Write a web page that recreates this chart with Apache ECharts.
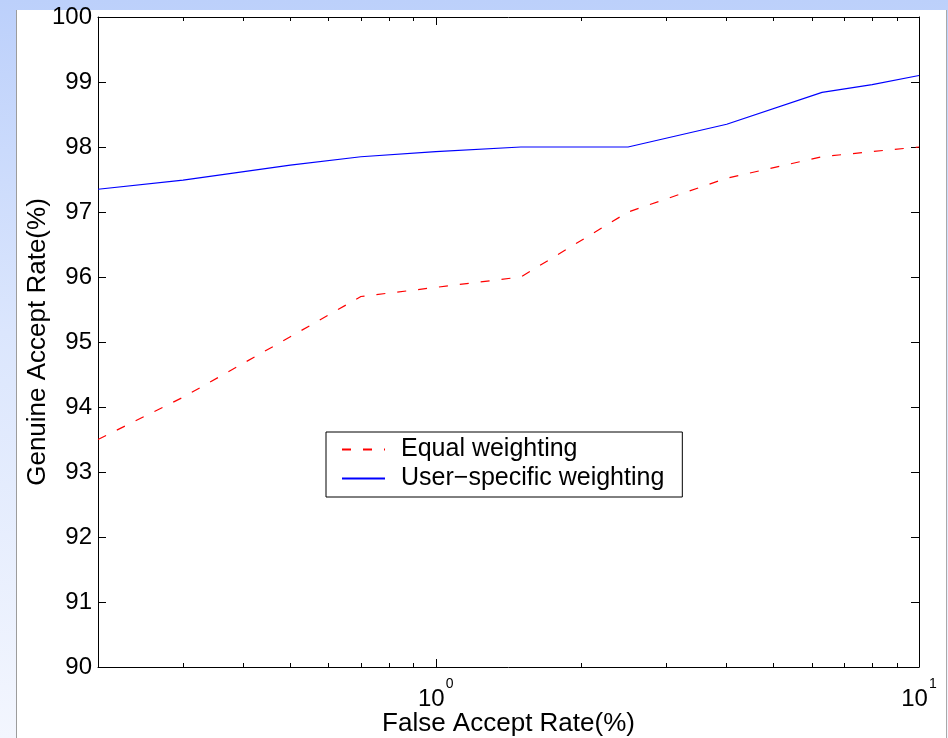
<!DOCTYPE html>
<html>
<head>
<meta charset="utf-8">
<script src="https://cdn.jsdelivr.net/npm/echarts@6/dist/echarts.min.js"></script>
<style>
  html, body {
    margin: 0; padding: 0; width: 948px; height: 738px; overflow: hidden;
    background: linear-gradient(to bottom, #bcd0fb 0%, #dbe6fd 45%, #f3f6fe 100%);
  }
  #panel {
    position: absolute; left: 16px; top: 10px; width: 931px; height: 728px;
    background: #ffffff; box-sizing: border-box;
    border-left: 1px solid #9c9c9c; border-right: 1px solid #a9a9a9;
  }
  #chart { position: absolute; left: 0; top: 0; width: 948px; height: 738px; }
</style>
</head>
<body>
<div id="panel"></div>
<div id="chart"></div>
<script>
// False accept rate (%) sample points, shared by both curves
const farValues = [0.2, 0.3, 0.5, 0.7, 1.0, 1.5, 2.5, 4.0, 6.3, 8.0, 10];

// Genuine accept rate (%) for each weighting scheme
const equalWeighting = [93.5, 94.15, 95.08, 95.7, 95.84, 96.0, 97.0, 97.52, 97.85, 97.93, 98.0];
const userSpecificWeighting = [97.35, 97.49, 97.72, 97.85, 97.93, 98.0, 98.0, 98.35, 98.84, 98.96, 99.1];

const seriesNames = ['Equal weighting', 'User\u2212specific weighting'];

// Axis tick positions
const xMajorTicks = [1, 10];
const xMinorTicks = [0.3, 0.4, 0.5, 0.6, 0.7, 0.8, 0.9, 2, 3, 4, 5, 6, 7, 8, 9];

const FONT = "'Liberation Sans', Arial, Helvetica, sans-serif";

function pairs(xs, ys) {
  return xs.map((x, i) => [x, ys[i]]);
}

function logAxis(position, ticks, tickLen, opts) {
  return Object.assign({
    type: 'log',
    logBase: 10,
    min: 0.2,
    max: 10,
    position: position,
    axisLine: { show: false },
    axisTick: {
      show: true, inside: true, length: tickLen, customValues: ticks,
      lineStyle: { color: '#000', width: 1 }
    },
    axisLabel: { show: false },
    splitLine: { show: false },
    minorTick: { show: false },
    minorSplitLine: { show: false }
  }, opts || {});
}

const chart = echarts.init(document.getElementById('chart'), null, { renderer: 'canvas' });

chart.setOption({
  animation: false,
  backgroundColor: 'transparent',
  textStyle: { fontFamily: FONT },
  grid: { left: 98, top: 17, width: 821, height: 650, containLabel: false, outerBoundsMode: 'none' },
  legend: {
    orient: 'vertical',
    left: 326,
    top: 432,
    padding: [5, 18, 6, 15],
    itemGap: 4,
    itemWidth: 43,
    itemHeight: 14,
    borderColor: '#000',
    borderWidth: 1,
    backgroundColor: '#fff',
    borderRadius: 0,
    itemStyle: { opacity: 0 },
    textStyle: { fontSize: 25, color: '#000', fontFamily: FONT, padding: [0, 0, 0, 11] },
    data: seriesNames
  },
  xAxis: [
    logAxis('bottom', xMajorTicks, 8, {
      axisLine: { show: true, lineStyle: { color: '#000', width: 1 } },
      axisLabel: {
        show: true,
        customValues: xMajorTicks,
        margin: 10,
        color: '#000',
        fontFamily: FONT,
        formatter: function (v) {
          const e = Math.round(Math.log10(v));
          return '{b|10}{s|' + e + '}';
        },
        rich: {
          b: { fontSize: 24, fontFamily: FONT, color: '#000', verticalAlign: 'bottom', padding: [10, 0, 0, 0] },
          s: { fontSize: 14, fontFamily: FONT, color: '#000', verticalAlign: 'top', padding: [0, 0, 0, 1] }
        }
      },
      name: 'False Accept Rate(%)',
      nameLocation: 'middle',
      nameGap: 44,
      nameMoveOverlap: false,
      nameTextStyle: { fontSize: 26, color: '#000', fontFamily: FONT }
    }),
    logAxis('bottom', xMinorTicks, 4),
    logAxis('top', xMajorTicks, 8, {
      axisLine: { show: true, lineStyle: { color: '#000', width: 1 } }
    }),
    logAxis('top', xMinorTicks, 4)
  ],
  yAxis: [
    {
      type: 'value',
      min: 90, max: 100, interval: 1,
      position: 'left',
      axisLine: { show: true, lineStyle: { color: '#000', width: 1 } },
      axisTick: { show: true, inside: true, length: 8, lineStyle: { color: '#000', width: 1 } },
      axisLabel: { show: true, margin: 6, fontSize: 24, color: '#000', fontFamily: FONT },
      splitLine: { show: false },
      name: 'Genuine Accept Rate(%)',
      nameLocation: 'middle',
      nameGap: 47,
      nameMoveOverlap: false,
      nameTextStyle: { fontSize: 26, color: '#000', fontFamily: FONT }
    },
    {
      type: 'value',
      min: 90, max: 100, interval: 1,
      position: 'right',
      axisLine: { show: true, lineStyle: { color: '#000', width: 1 } },
      axisTick: { show: true, inside: true, length: 8, lineStyle: { color: '#000', width: 1 } },
      axisLabel: { show: false },
      splitLine: { show: false }
    }
  ],
  series: [
    {
      name: seriesNames[0],
      type: 'line',
      xAxisIndex: 0, yAxisIndex: 0,
      data: pairs(farValues, equalWeighting),
      symbol: 'none',
      smooth: false,
      lineStyle: { color: '#ff0000', width: 1.2, type: [9, 12] },
      itemStyle: { color: '#ff0000' }
    },
    {
      name: seriesNames[1],
      type: 'line',
      xAxisIndex: 0, yAxisIndex: 0,
      data: pairs(farValues, userSpecificWeighting),
      symbol: 'none',
      smooth: false,
      lineStyle: { color: '#0000ff', width: 1.2, type: 'solid' },
      itemStyle: { color: '#0000ff' }
    }
  ]
});
</script>
</body>
</html>
